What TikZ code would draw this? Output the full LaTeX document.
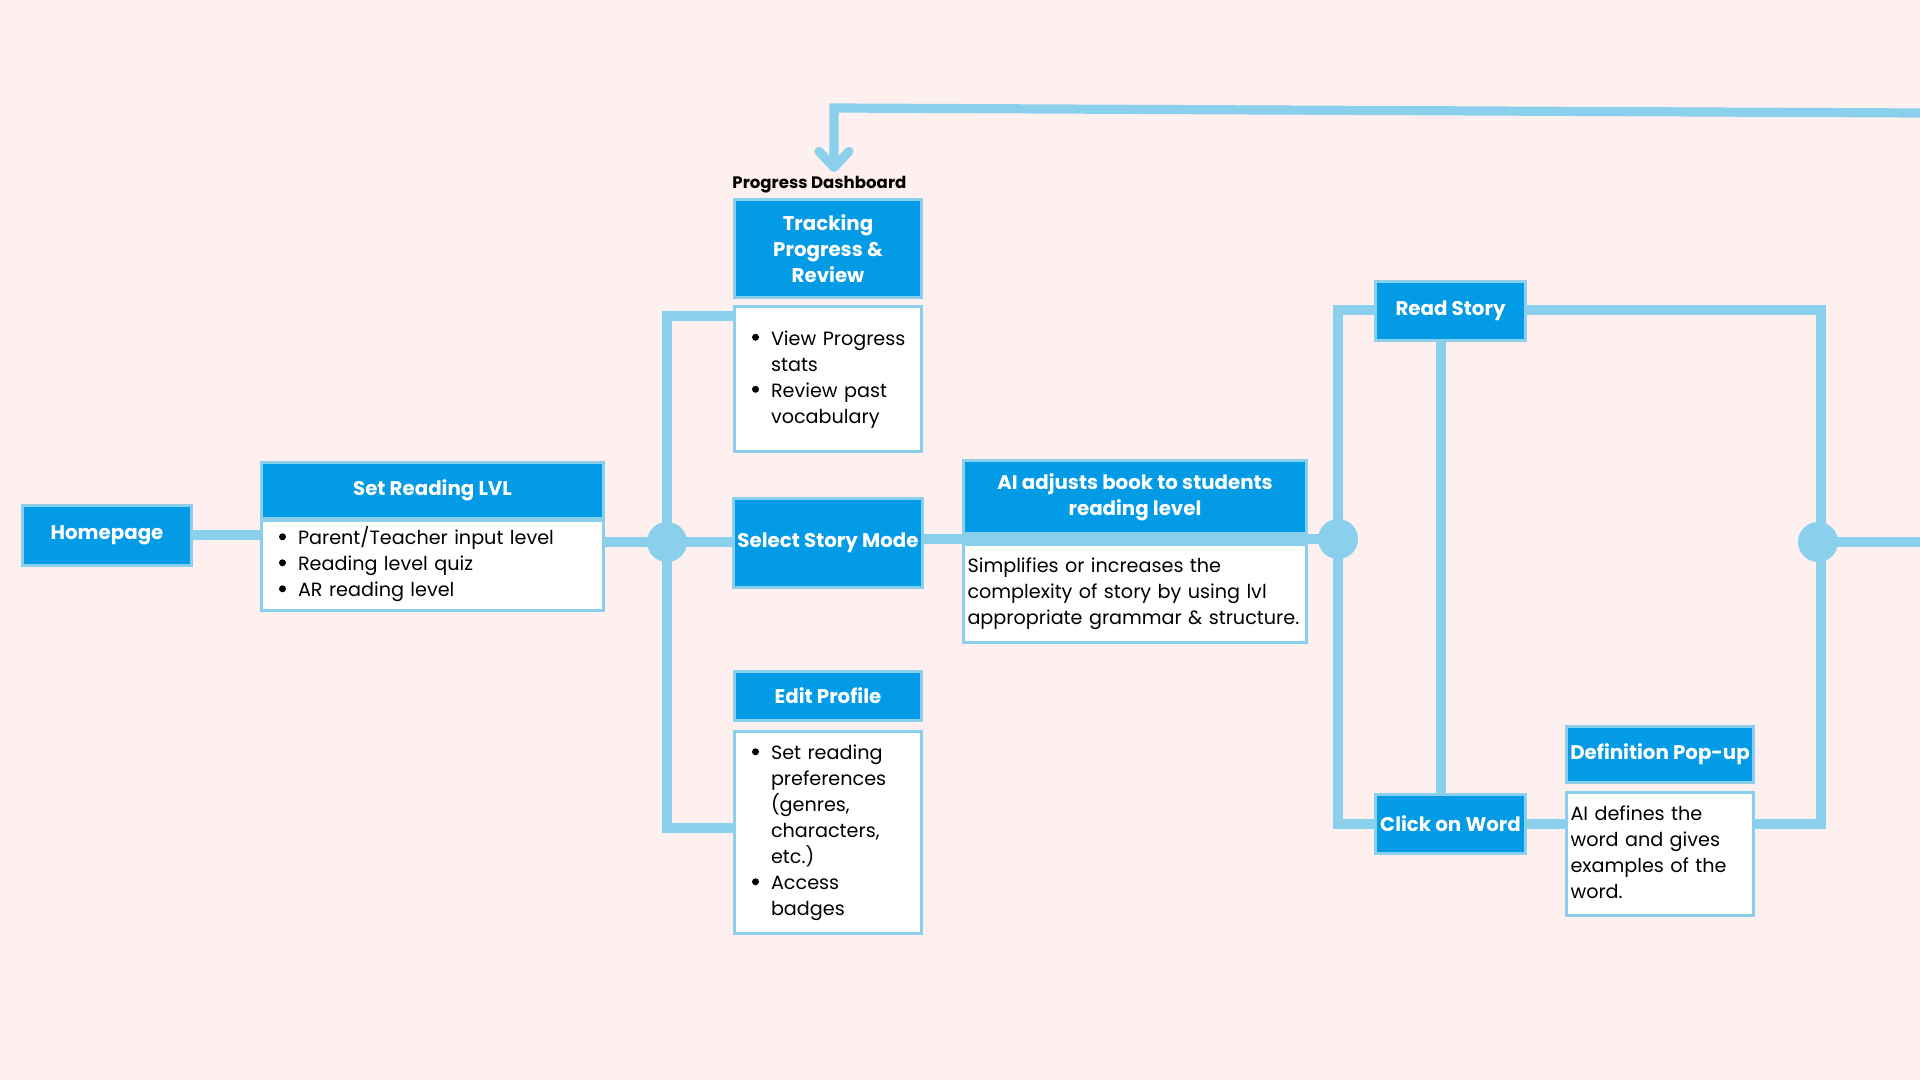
\documentclass[tikz,border=0pt]{standalone}
\usepackage{fontspec}
\setmainfont{Poppins}
\usetikzlibrary{arrows.meta}
\definecolor{bg}{HTML}{FFF0F0}
\definecolor{lb}{HTML}{8ACFEC}
\definecolor{hb}{HTML}{039BE5}
\pgfdeclarelayer{back}
\pgfdeclarelayer{lines}
\pgfsetlayers{back,lines,main}
\newcommand{\bul}{\makebox[9.5pt][l]{\raisebox{2.2pt}{\tikz\fill[black] (0pt,0pt) circle (1.75pt);}}}
\begin{document}
\begin{tikzpicture}[x=0.5pt,y=-0.5pt,
  conn/.style={draw=lb,line width=4.6pt},
  hdr/.style={draw=lb,fill=hb,line width=1.5pt,text=white,font=\fontsize{9.9}{13}\selectfont\bfseries,align=center,inner sep=2pt},
  bod/.style={draw=lb,fill=white,line width=1.5pt,text=black,font=\fontsize{9.6}{13}\selectfont,align=left,inner ysep=2pt},
  jn/.style={circle,fill=lb,minimum size=20pt,inner sep=0pt}]
\useasboundingbox (0,0) rectangle (1920,1080);
\begin{pgfonlayer}{back}
\fill[bg] (0,0) rectangle (1920,1080);
\end{pgfonlayer}

% boxes
\node[hdr,minimum width=84.5pt,minimum height=30pt] (home) at (107,535) {Homepage};
\node[hdr,minimum width=171pt,minimum height=28pt] (setH) at (432.5,490.5) {Set Reading LVL};
\node[bod,minimum width=171pt,minimum height=45pt,text width=153.5pt,inner xsep=8.75pt] (setB) at (432.5,565.5)
  {\noindent\begin{tabular}{@{}l@{}l@{}}\bul&Parent/Teacher input level\\ \bul&Reading level quiz\\ \bul&AR reading level\end{tabular}};

\node[font=\fontsize{8.3}{10}\selectfont\bfseries,anchor=base west,inner sep=0pt] (pd) at (732,189) {Progress Dashboard};
\node[hdr,minimum width=93.5pt,minimum height=49pt] (trkH) at (828,248.5) {Tracking\\Progress \&\\Review};
\node[bod,minimum width=93.5pt,minimum height=72.5pt,text width=76pt,inner xsep=8.75pt] (trkB) at (828,379)
  {\noindent\begin{tabular}{@{}l@{}l@{}}\bul&View Progress\\ &stats\\ \bul&Review past\\ &vocabulary\end{tabular}};

\node[hdr,minimum width=93.5pt,minimum height=44.5pt] (sel) at (828,543) {Select Story Mode};

\node[hdr,minimum width=93.5pt,minimum height=24.5pt] (editH) at (828,696) {Edit Profile};
\node[bod,minimum width=93.5pt,minimum height=101pt,text width=76pt,inner xsep=8.75pt] (editB) at (828,832.5)
  {\noindent\begin{tabular}{@{}l@{}l@{}}\bul&Set reading\\ &preferences\\ &(genres,\\ &characters,\\ &etc.)\\ \bul&Access\\ &badges\end{tabular}};

\node[hdr,minimum width=171.5pt,minimum height=36.5pt] (aiH) at (1135,497) {AI adjusts book to students\\reading level};
\node[bod,minimum width=171.5pt,minimum height=49pt,text width=167.5pt,inner xsep=2pt] (aiB) at (1135,593.5)
  {\noindent\begin{tabular}{@{}l@{}}Simplifies or increases the\\ complexity of story by using lvl\\ appropriate grammar \& structure.\end{tabular}};

\node[hdr,minimum width=75pt,minimum height=29.5pt] (read) at (1450.5,311) {Read Story};
\node[hdr,minimum width=75pt,minimum height=29.5pt] (click) at (1450.5,824) {Click on Word};
\node[hdr,minimum width=93.5pt,minimum height=28pt] (defH) at (1660,754.5) {Definition Pop-up};
\node[bod,minimum width=93.5pt,minimum height=61.5pt,text width=89.5pt,inner xsep=2pt] (defB) at (1660,854)
  {\noindent\begin{tabular}{@{}l@{}}AI defines the\\ word and gives\\ examples of the\\ word.\end{tabular}};

% junctions
\node[jn] (j1) at (667,542) {};
\node[jn] (j2) at (1338,539) {};
\node[jn] (j3) at (1818,542) {};

% helper coordinates
\coordinate (j1t) at (667,316);
\coordinate (j1b) at (667,828);
\coordinate (j2t) at (1338,310);
\coordinate (j2b) at (1338,824);
\coordinate (rt) at (1821,310);
\coordinate (rb) at (1821,824);
\coordinate (vx) at (1441,0);
\coordinate (edgeR) at (1920,542);
\coordinate (topR) at (1920,113);
\coordinate (topL) at (834,108);
\coordinate (tip) at (834,172);

\begin{pgfonlayer}{lines}
\draw[conn] (home.east) -- (home.east -| setB.west);
\draw[conn] (setB.east |- j1) -- (j1.center);
\draw[conn] (trkB.west |- j1t) -- (j1t) -- (j1b) -- (editB.west |- j1b);
\draw[conn] (j1.center) -- (sel.west |- j1);
\draw[conn] (sel.east |- j2) -- (j2.center);
\draw[conn] (read.west |- j2t) -- (j2t) -- (j2b) -- (click.west |- j2b);
\draw[conn] (read.east |- rt) -- (rt) -- (rb) -- (defB.east |- rb);
\draw[conn] (j3.center) -- (edgeR);
\draw[conn] (read.south -| vx) -- (click.north -| vx);
\draw[conn] (click.east) -- (click.east -| defB.west);
\draw[conn,-{Straight Barb[length=8pt,width=15pt,round]}] (topR) -- (topL) -- (tip);
\end{pgfonlayer}
\end{tikzpicture}
\end{document}
